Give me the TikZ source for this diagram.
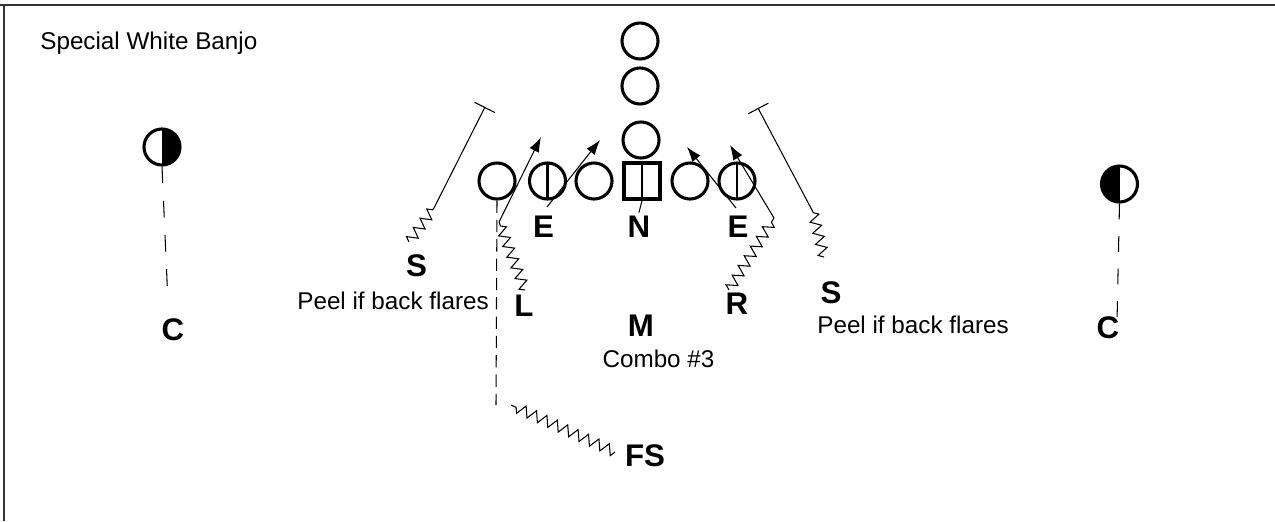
\documentclass[tikz,border=0pt]{standalone}
\usepackage{fontspec}
\setmainfont{Liberation Sans}
\usetikzlibrary{arrows.meta, decorations.pathmorphing}

\tikzset{
	player/.style = {circle, draw, line width = 1.75pt, minimum size = 20.5pt, inner sep = 0pt},
	endman/.style = {player, path picture = {\draw [line width = 1.3pt] (path picture bounding box.north) -- (path picture bounding box.south);}},
	snapper/.style = {rectangle, draw, line width = 1.75pt, minimum size = 20.5pt, inner sep = 0pt,
		path picture = {\draw [line width = 1.3pt] (path picture bounding box.north) -- (path picture bounding box.south);}},
	cornerL/.style = {player, path picture = {\fill (path picture bounding box.north) rectangle (path picture bounding box.south east);}},
	cornerR/.style = {player, path picture = {\fill (path picture bounding box.north west) rectangle (path picture bounding box.south);}},
	def/.style = {font = \fontsize{17.8}{20}\selectfont\bfseries, inner sep = 0pt},
	note/.style = {font = \fontsize{13.8}{16}\selectfont, inner sep = 0pt},
	route/.style = {line width = 0.6pt},
	zig/.style = {route, decorate, decoration = {zigzag, amplitude = 3pt, segment length = 6.5pt}},
	block/.style = {route, -{Bar[width = 13pt, line width = 0.6pt]}}
}

\begin{document}
\begin{tikzpicture}[> = {Latex[length = 8.5pt, width = 6pt]}, x = 0.02cm, y = -0.02cm]

	\useasboundingbox (0, 0) rectangle (1275, 521);

	% Frame

	\draw [line width = 1.1pt, black!80] (0, 5) -- (1275, 5);
	\draw [line width = 1.1pt, black!80] (4, 5) -- (4, 521);

	\node [note, anchor = base west] (title) at (40, 49) {Special White Banjo};

	% Offense

	\node [player] (b1) at (640, 41) {};
	\node [player] (b2) at (640, 86) {};
	\node [player] (qb) at (641, 140) {};

	\node [player]  (t1)  at (497, 181) {};
	\node [endman]  (te1) at (547.5, 181) {};
	\node [player]  (g1)  at (594, 181) {};
	\node [snapper] (ctr) at (642, 181) {};
	\node [player]  (g2)  at (690, 181) {};
	\node [endman]  (te2) at (737, 181) {};

	\node [cornerL] (wl) at (162, 147) {};
	\node [cornerR] (wr) at (1119.5, 184) {};

	% Defense

	\node [def] (lE)  at (543.5, 227) {E};
	\node [def] (N)   at (639, 227) {N};
	\node [def] (rE)  at (738, 227) {E};
	\node [def] (lS)  at (416.5, 265.5) {S};
	\node [def] (rS)  at (831, 292.5) {S};
	\node [def] (L)   at (524, 306) {L};
	\node [def] (R)   at (737, 304) {R};
	\node [def] (M)   at (641, 326) {M};
	\node [def] (lC)  at (173, 330) {C};
	\node [def] (rC)  at (1108, 328) {C};
	\node [def] (FS)  at (645, 455.5) {FS};

	\node [note, anchor = base west] (lSnote) at (297, 309) {Peel if back flares};
	\node [note, anchor = base west] (rSnote) at (817, 333) {Peel if back flares};
	\node [note, anchor = base] (Mnote) at (658.5, 367.5) {Combo \#3};

	% Route points

	\coordinate (lS0) at (409, 242);
	\coordinate (lS1) at (434, 208);
	\coordinate (lS2) at (485, 107);
	\coordinate (rS0) at (824, 257);
	\coordinate (rS1) at (813, 212);
	\coordinate (rS2) at (758, 108);
	\coordinate (L0)  at (525, 290);
	\coordinate (L1)  at (499, 222);
	\coordinate (L2)  at (541, 137);
	\coordinate (R0)  at (729, 290);
	\coordinate (R1)  at (774, 218);
	\coordinate (R2)  at (730, 145);
	\coordinate (lE0) at (547, 207);
	\coordinate (lE1) at (600, 140);
	\coordinate (rE0) at (736, 208);
	\coordinate (rE1) at (687, 147);
	\coordinate (fs0) at (496, 405);
	\coordinate (fs1) at (511, 405);
	\coordinate (fs2) at (615, 452);
	\coordinate (lC0) at (168, 303);
	\coordinate (rC0) at (1117, 322);

	% Safeties

	\draw [zig] (lS0) -- (lS1);
	\draw [block] (lS1) -- (lS2);
	\draw [zig] (rS0) -- (rS1);
	\draw [block] (rS1) -- (rS2);

	\draw [route, dash pattern = on 7pt off 4pt] (t1.south) -- (fs0);
	\draw [zig] (fs2) -- (fs1);

	% Linebackers and ends

	\draw [zig] (L0) -- (L1);
	\draw [route, ->] (L1) -- (L2);
	\draw [zig] (R0) -- (R1);
	\draw [route, ->] (R1) -- (R2);

	\draw [route, ->] (lE0) -- (lE1);
	\draw [route, ->] (rE0) -- (rE1);
	\draw [route] (ctr.south) -- ([yshift = 2pt] N.north);

	% Corners

	\draw [route, dash pattern = on 9.5pt off 10pt] (wl.south) -- (lC0);
	\draw [route, dash pattern = on 9pt off 9.5pt] (wr.south) -- (rC0);

\end{tikzpicture}
\end{document}
